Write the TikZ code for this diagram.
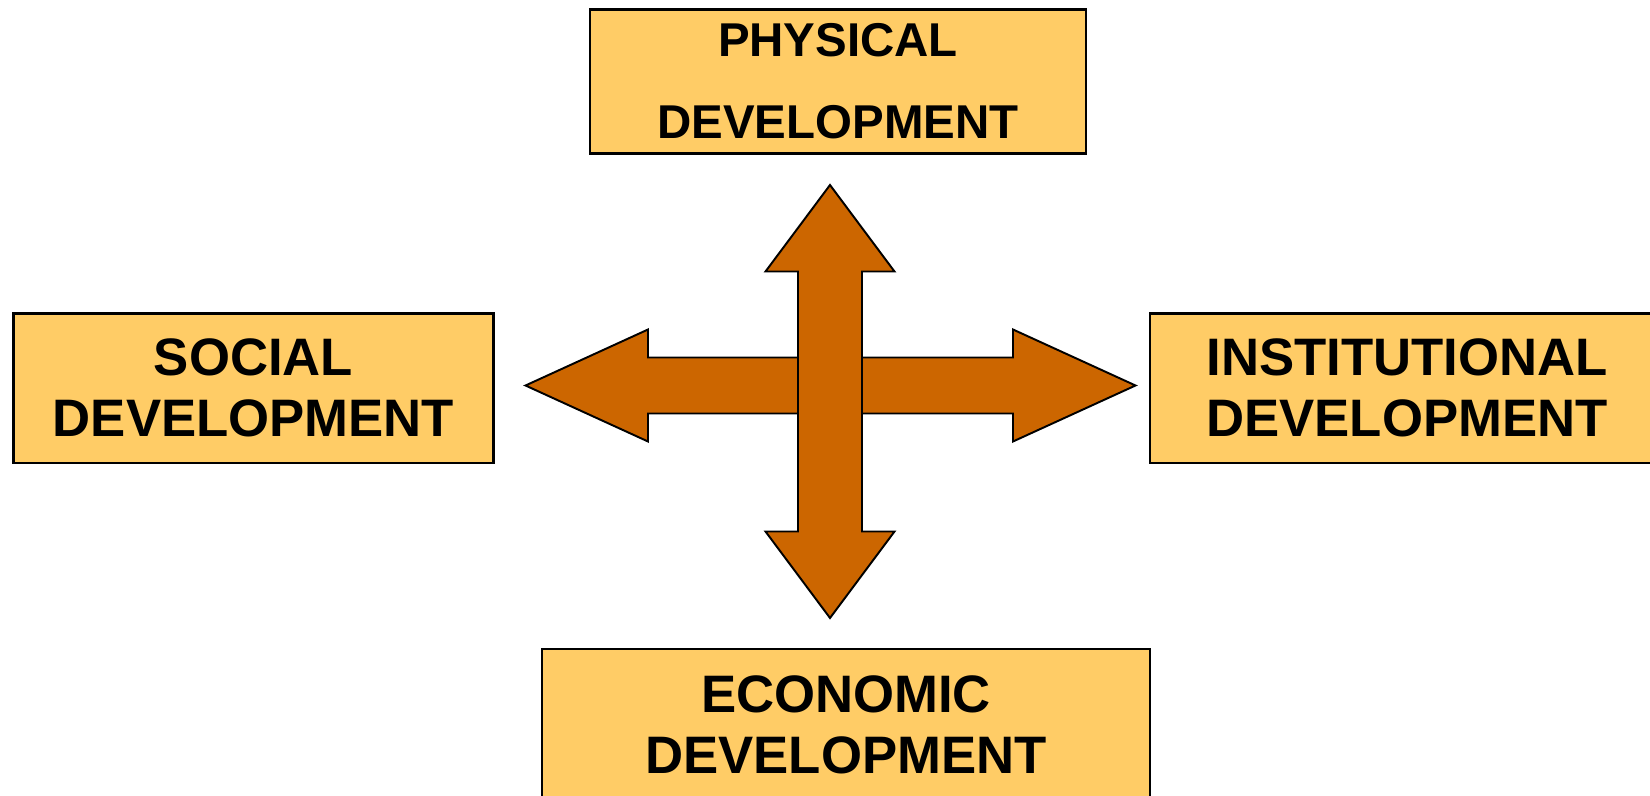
\documentclass[tikz,border=0pt]{standalone}
\usepackage{fontspec}
\setmainfont{Liberation Sans}
\usepackage{tikz}
\usetikzlibrary{positioning,backgrounds}
\definecolor{boxfill}{RGB}{255,204,102}
\definecolor{arrowfill}{RGB}{204,102,0}
\tikzset{
  devbox/.style={draw=black, line width=1.2pt, fill=boxfill, align=center,
    inner sep=0pt, font=\bfseries\fontsize{30}{34.7}\selectfont},
  crossarrow/.style={draw=black, line width=1.1pt, fill=arrowfill, line join=miter}
}

\begin{document}
\begin{tikzpicture}
  \useasboundingbox (0,0) rectangle (33,15.9);
  % the cross of double arrows
  \coordinate (hub) at (16.61,8.19);
  \begin{scope}[shift={(hub)}]
    \draw[crossarrow] (-6.1,0) -- (-3.65,1.12) -- (-3.65,0.56) -- (3.65,0.56)
      -- (3.65,1.12) -- (6.1,0) -- (3.65,-1.12) -- (3.65,-0.56) -- (-3.65,-0.56)
      -- (-3.65,-1.12) -- cycle;
  \end{scope}
  \begin{scope}[shift={(16.6,7.87)}]
    \draw[crossarrow] (0,4.33) -- (1.29,2.6) -- (0.64,2.6) -- (0.64,-2.6)
      -- (1.29,-2.6) -- (0,-4.33) -- (-1.29,-2.6) -- (-0.64,-2.6) -- (-0.64,2.6)
      -- (-1.29,2.6) -- cycle;
  \end{scope}
  % the four boxes
  \node[devbox, minimum width=9.92cm, minimum height=2.88cm,
        font=\bfseries\fontsize{27}{46.7}\selectfont]
        (physical) at (16.76,14.27) {PHYSICAL\\DEVELOPMENT};
  \node[devbox, minimum width=9.6cm, minimum height=2.99cm]
        (social) at (5.07,8.135) {SOCIAL\\DEVELOPMENT};
  \node[devbox, minimum width=10.28cm, minimum height=2.99cm]
        (institutional) at (28.14,8.135) {INSTITUTIONAL\\DEVELOPMENT};
  \node[devbox, minimum width=12.16cm, minimum height=3.04cm]
        (economic) at (16.92,1.4) {ECONOMIC\\DEVELOPMENT};
\end{tikzpicture}
\end{document}
